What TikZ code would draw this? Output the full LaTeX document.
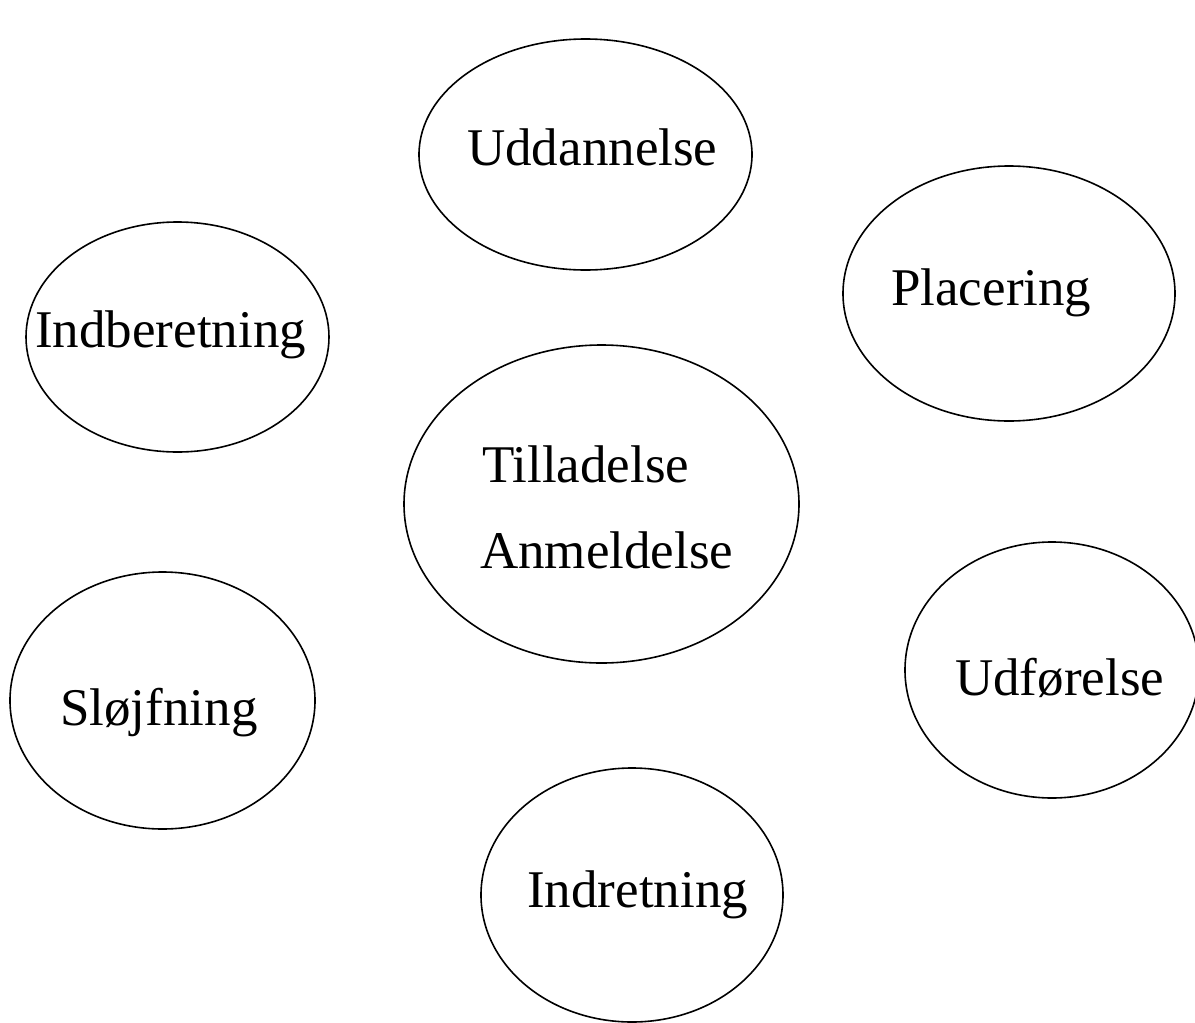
\documentclass[tikz,border=0pt]{standalone}
\usepackage{fontspec}
\setmainfont{Liberation Serif}
\usetikzlibrary{shapes.geometric}
\begin{document}
\begin{tikzpicture}[x=1pt,y=-1pt,
  bubble/.style={draw=black,line width=1.6pt,ellipse,inner sep=0pt,outer sep=0pt},
  lbl/.style={anchor=base west,inner sep=0pt,font=\fontsize{53}{62}\selectfont}]
\useasboundingbox[fill=white] (0,0) rectangle (1195,1023);
\node[bubble,minimum width=333pt,minimum height=231pt] (e1) at (585.5,154.5) {};
\node[bubble,minimum width=332pt,minimum height=255pt] (e2) at (1009,293.5) {};
\node[bubble,minimum width=303pt,minimum height=230pt] (e3) at (177.5,337) {};
\node[bubble,minimum width=395pt,minimum height=318pt] (e4) at (601.5,504) {};
\node[bubble,minimum width=294pt,minimum height=256pt] (e5) at (1052,670) {};
\node[bubble,minimum width=305pt,minimum height=257pt] (e6) at (162.5,700.5) {};
\node[bubble,minimum width=302pt,minimum height=254pt] (e7) at (632,895) {};
\node[lbl] (t1) at (467,165) {Uddannelse};
\node[lbl] (t2) at (891,305) {Placering};
\node[lbl] (t3) at (35,347) {Indberetning};
\node[lbl] (t4a) at (482,482) {Tilladelse};
\node[lbl] (t4b) at (480,568) {Anmeldelse};
\node[lbl] (t5) at (955,695) {Udførelse};
\node[lbl] (t6) at (60,725) {Sløjfning};
\node[lbl] (t7) at (527,907) {Indretning};
\end{tikzpicture}
\end{document}
